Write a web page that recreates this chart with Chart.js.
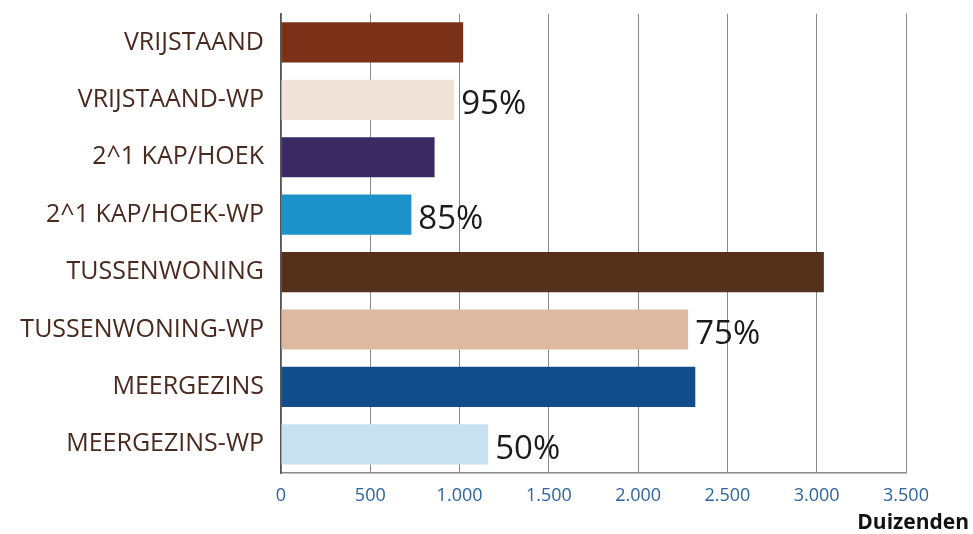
<!DOCTYPE html>
<html>
<head>
<meta charset="utf-8">
<script src="https://cdn.jsdelivr.net/npm/chart.js@4"></script>
<style>
  body { margin: 0; background: #fff; }
  #wrap { width: 973px; height: 534px; }
</style>
</head>
<body>
<div id="wrap"><canvas id="myChart"></canvas></div>
<script>
const categories = ['VRIJSTAAND', 'VRIJSTAAND-WP', '2^1 KAP/HOEK', '2^1 KAP/HOEK-WP',
  'TUSSENWONING', 'TUSSENWONING-WP', 'MEERGEZINS', 'MEERGEZINS-WP'];
const values = [1020, 970, 860, 730, 3040, 2280, 2320, 1160];
const pctLabels = ['', '95%', '', '85%', '', '75%', '', '50%'];
const barColors = ['#7B3118', '#F2E3D8', '#3A2A62', '#1C92CB',
  '#55301A', '#DDB9A2', '#114C8D', '#C8E1F1'];
const unitLabel = 'Duizenden';

// percentages next to the WP bars + unit under the axis
const extraText = {
  id: 'extraText',
  afterDatasetsDraw(chart) {
    const ctx = chart.ctx;
    const meta = chart.getDatasetMeta(0);
    ctx.save();
    ctx.fillStyle = '#1a1a1a';
    ctx.font = '33px "Open Sans"';
    ctx.textAlign = 'left';
    ctx.textBaseline = 'middle';
    meta.data.forEach((bar, i) => {
      if (pctLabels[i]) ctx.fillText(pctLabels[i], bar.x + 7, bar.y + 5);
    });
    ctx.font = 'bold 21px "Open Sans"';
    ctx.textAlign = 'right';
    ctx.fillStyle = '#111';
    ctx.fillText(unitLabel, chart.width - 4, 523);
    ctx.restore();
  }
};

const data = {
  labels: categories,
  datasets: [{
    data: values,
    backgroundColor: barColors,
    borderWidth: 0,
    barPercentage: 0.7,
    categoryPercentage: 1.0
  }]
};

const config = {
  type: 'bar',
  data: data,
  options: {
    indexAxis: 'y',
    responsive: true,
    maintainAspectRatio: false,
    animation: false,
    layout: { padding: { top: 0, right: 67, bottom: 21, left: 0 } },
    plugins: { legend: { display: false }, tooltip: { enabled: false } },
    scales: {
      x: {
        min: 0,
        max: 3500,
        ticks: {
          stepSize: 500,
          padding: 12,
          color: '#2C64A0',
          font: { family: 'Open Sans', size: 18 },
          callback: v => v.toLocaleString('nl-NL')
        },
        grid: { color: '#8a8a8a', lineWidth: 1, drawTicks: false },
        border: { color: '#8a8a8a', width: 1.5 },
        afterFit: s => { s.height = 40; }
      },
      y: {
        ticks: {
          padding: 0,
          color: '#4A2A1F',
          font: { family: 'Open Sans', size: 25, lineHeight: 1.1 }
        },
        grid: { display: false, drawTicks: true, tickLength: 17 },
        border: { color: '#555', width: 1.5 },
        afterFit: s => { s.width = 281; }
      }
    }
  },
  plugins: [extraText]
};

const myChart = new Chart(document.getElementById('myChart'), config);
</script>
</body>
</html>
